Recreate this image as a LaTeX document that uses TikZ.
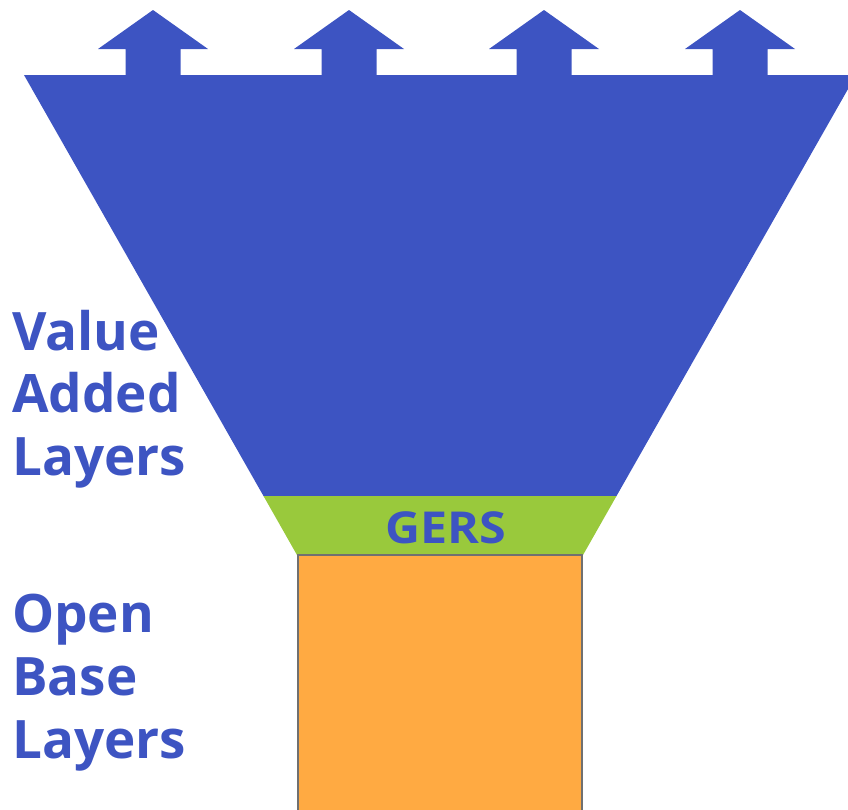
\documentclass[tikz,border=0pt]{standalone}
\usepackage{fontspec}
\setmainfont{Open Sans}
\definecolor{funnelblue}{HTML}{3D54C2}
\definecolor{gersgreen}{HTML}{99C93C}
\definecolor{baseorange}{HTML}{FFAA42}
\definecolor{bordergray}{HTML}{707070}
\begin{document}
\begin{tikzpicture}[x=1pt,y=-1pt,
  layerlabel/.style={anchor=base west,inner sep=0pt,text=funnelblue,font=\fontsize{53}{62}\selectfont\bfseries},
  gerslabel/.style={inner sep=0pt,text=funnelblue,font=\fontsize{44}{50}\selectfont\bfseries,xscale=1.1},
  uparrow/.style={fill=funnelblue,draw=none}]
\useasboundingbox (0,0) rectangle (848,809);
\clip (0,0) rectangle (848,809);
% funnel
\fill[funnelblue] (24,75) -- (856,75) -- (616.5,496) -- (263.5,496) -- cycle;
% arrows
\foreach \cx in {153,349,544,740}{
  \fill[funnelblue] (\cx-27.5,76) -- (\cx-27.5,49) -- (\cx-55,49) -- (\cx,10)
     -- (\cx+55,49) -- (\cx+27.5,49) -- (\cx+27.5,76) -- cycle;
}
% GERS band
\fill[gersgreen] (263.5,496) -- (616.5,496) -- (583,555) -- (297,555) -- cycle;
\node[gerslabel] (gers) at (446,528) {GERS};
% base
\draw[fill=baseorange,draw=bordergray,line width=1.5pt] (298,555) rectangle (582,815);
% labels
\node[layerlabel] (v1) at (12,350) {Value};
\node[layerlabel] (v2) at (12,412.5) {Added};
\node[layerlabel] (v3) at (12,475) {Layers};
\node[layerlabel] (o1) at (12,632) {Open};
\node[layerlabel] (o2) at (12,695) {Base};
\node[layerlabel] (o3) at (12,758) {Layers};
\end{tikzpicture}
\end{document}
